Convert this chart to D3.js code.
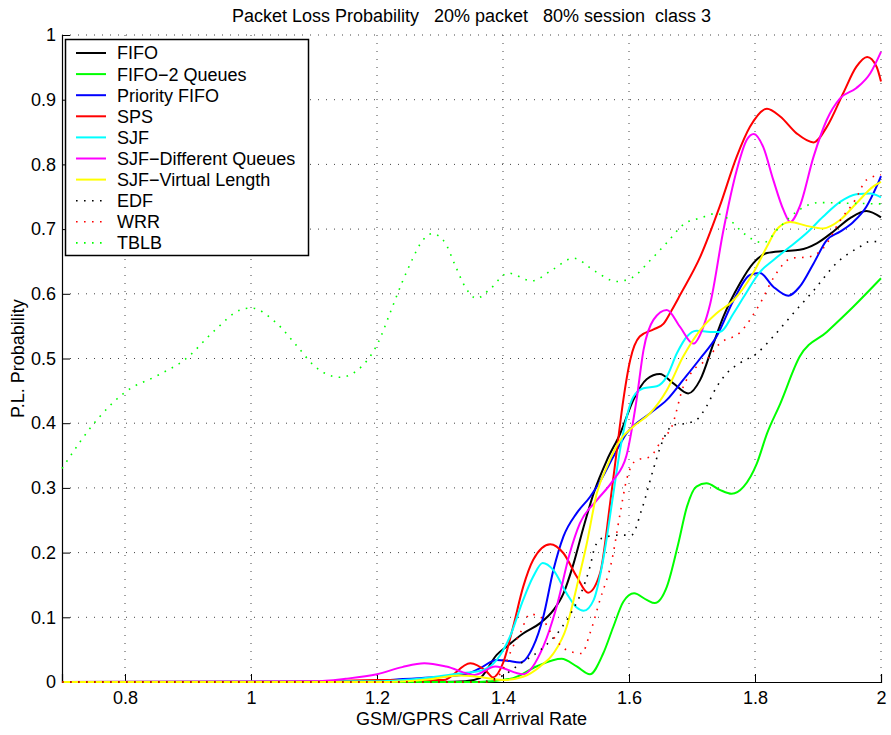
<!DOCTYPE html>
<html>
<head>
<meta charset="utf-8">
<script src="https://cdn.jsdelivr.net/npm/d3@7"></script>
<style>
  body { margin: 0; background: #fff; }
  text { font-family: "Liberation Sans", Arial, sans-serif; }
</style>
</head>
<body>
<div id="chart"></div>
<script>
// ---- data ----
var seriesNames = ["FIFO", "FIFO\u22122 Queues", "Priority FIFO", "SPS", "SJF",
  "SJF\u2212Different Queues", "SJF\u2212Virtual Length", "EDF", "WRR", "TBLB"];

var fifoX = [0.7, 1.30, 1.34, 1.363, 1.39, 1.406, 1.432, 1.459, 1.48, 1.496, 1.512, 1.528, 1.544, 1.565, 1.586, 1.607, 1.628, 1.649, 1.670, 1.694, 1.713, 1.734, 1.750, 1.776, 1.797, 1.819, 1.845, 1.871, 1.898, 1.924, 1.951, 1.977, 2.0];
var fifoY = [0, 0, 0.001, 0.006, 0.042, 0.055, 0.075, 0.091, 0.111, 0.137, 0.183, 0.240, 0.292, 0.343, 0.384, 0.436, 0.468, 0.476, 0.462, 0.446, 0.467, 0.523, 0.565, 0.616, 0.647, 0.663, 0.666, 0.668, 0.678, 0.696, 0.717, 0.728, 0.718];

var fifo2X = [0.7, 1.36, 1.416, 1.453, 1.493, 1.517, 1.538, 1.559, 1.575, 1.591, 1.608, 1.628, 1.641, 1.660, 1.678, 1.692, 1.707, 1.723, 1.744, 1.763, 1.782, 1.803, 1.819, 1.840, 1.871, 1.914, 1.956, 2.0];
var fifo2Y = [0, 0, 0.006, 0.024, 0.036, 0.024, 0.012, 0.044, 0.085, 0.124, 0.137, 0.127, 0.122, 0.147, 0.213, 0.271, 0.302, 0.307, 0.297, 0.291, 0.302, 0.338, 0.384, 0.43, 0.503, 0.541, 0.58, 0.624];

var prioX = [0.7, 1.15, 1.231, 1.284, 1.337, 1.363, 1.39, 1.406, 1.427, 1.448, 1.464, 1.480, 1.496, 1.517, 1.538, 1.554, 1.575, 1.596, 1.633, 1.66, 1.686, 1.713, 1.739, 1.766, 1.792, 1.808, 1.829, 1.853, 1.871, 1.893, 1.914, 1.935, 1.956, 1.977, 1.993, 2.0];
var prioY = [0, 0, 0.004, 0.007, 0.011, 0.021, 0.034, 0.033, 0.030, 0.055, 0.101, 0.173, 0.225, 0.261, 0.286, 0.31, 0.348, 0.384, 0.415, 0.436, 0.467, 0.5, 0.534, 0.59, 0.629, 0.632, 0.611, 0.597, 0.611, 0.647, 0.683, 0.696, 0.711, 0.735, 0.766, 0.782];

var spsX = [0.7, 1.1, 1.2, 1.305, 1.348, 1.374, 1.384, 1.400, 1.416, 1.432, 1.448, 1.475, 1.496, 1.517, 1.535, 1.554, 1.570, 1.580, 1.591, 1.602, 1.617, 1.639, 1.655, 1.668, 1.681, 1.713, 1.744, 1.771, 1.792, 1.819, 1.840, 1.866, 1.893, 1.914, 1.940, 1.961, 1.978, 1.993, 2.0];
var spsY = [0, 0.001, 0.003, 0.003, 0.029, 0.016, 0.007, 0.029, 0.085, 0.147, 0.189, 0.213, 0.199, 0.163, 0.138, 0.168, 0.276, 0.353, 0.436, 0.498, 0.534, 0.545, 0.554, 0.575, 0.598, 0.657, 0.735, 0.812, 0.858, 0.886, 0.874, 0.848, 0.834, 0.858, 0.91, 0.951, 0.966, 0.951, 0.928];

var sjfX = [0.7, 1.2, 1.284, 1.337, 1.363, 1.39, 1.411, 1.432, 1.448, 1.463, 1.480, 1.501, 1.517, 1.528, 1.544, 1.559, 1.575, 1.586, 1.607, 1.623, 1.644, 1.660, 1.676, 1.692, 1.707, 1.729, 1.744, 1.766, 1.782, 1.808, 1.829, 1.856, 1.882, 1.908, 1.935, 1.961, 1.983, 2.0];
var sjfY = [0, 0.001, 0.007, 0.014, 0.017, 0.034, 0.07, 0.127, 0.163, 0.184, 0.173, 0.137, 0.115, 0.110, 0.127, 0.189, 0.29, 0.36, 0.441, 0.454, 0.457, 0.472, 0.508, 0.534, 0.543, 0.541, 0.541, 0.570, 0.595, 0.634, 0.652, 0.673, 0.694, 0.719, 0.742, 0.754, 0.755, 0.749];

var sjfdqX = [0.7, 1.1, 1.15, 1.2, 1.24, 1.275, 1.31, 1.355, 1.388, 1.432, 1.464, 1.485, 1.506, 1.522, 1.549, 1.575, 1.596, 1.612, 1.623, 1.639, 1.660, 1.681, 1.702, 1.718, 1.729, 1.750, 1.771, 1.787, 1.798, 1.813, 1.829, 1.845, 1.856, 1.871, 1.893, 1.914, 1.935, 1.961, 1.983, 2.0];
var sjfdqY = [0, 0.001, 0.005, 0.012, 0.023, 0.029, 0.024, 0.011, 0.024, 0.012, 0.055, 0.116, 0.199, 0.245, 0.281, 0.312, 0.35, 0.436, 0.513, 0.56, 0.575, 0.549, 0.523, 0.549, 0.585, 0.699, 0.791, 0.838, 0.847, 0.827, 0.776, 0.730, 0.711, 0.735, 0.812, 0.869, 0.902, 0.918, 0.941, 0.974];

var sjfvlX = [0.7, 1.2, 1.28, 1.33, 1.36, 1.40, 1.432, 1.459, 1.48, 1.501, 1.517, 1.533, 1.549, 1.565, 1.586, 1.607, 1.633, 1.66, 1.686, 1.713, 1.739, 1.766, 1.797, 1.819, 1.834, 1.856, 1.882, 1.908, 1.935, 1.961, 1.988, 2.0];
var sjfvlY = [0, 0, 0.004, 0.010, 0.008, 0.003, 0.008, 0.024, 0.044, 0.085, 0.147, 0.214, 0.292, 0.333, 0.374, 0.395, 0.415, 0.451, 0.503, 0.544, 0.570, 0.59, 0.632, 0.673, 0.699, 0.711, 0.705, 0.701, 0.714, 0.74, 0.766, 0.773];

var edfX = [0.7, 1.36, 1.40, 1.43, 1.46, 1.49, 1.51, 1.525, 1.538, 1.546, 1.557, 1.583, 1.604, 1.620, 1.639, 1.652, 1.670, 1.692, 1.707, 1.723, 1.739, 1.755, 1.776, 1.803, 1.829, 1.861, 1.893, 1.93, 1.967, 1.983, 2.0];
var edfY = [0, 0, 0.01, 0.03, 0.05, 0.08, 0.11, 0.14, 0.178, 0.209, 0.222, 0.227, 0.227, 0.266, 0.330, 0.369, 0.397, 0.40, 0.405, 0.426, 0.456, 0.477, 0.493, 0.508, 0.534, 0.57, 0.605, 0.648, 0.673, 0.681, 0.68];

var wrrX = [0.7, 1.38, 1.40, 1.416, 1.427, 1.443, 1.46, 1.48, 1.50, 1.525, 1.538, 1.554, 1.573, 1.586, 1.596, 1.612, 1.633, 1.652, 1.668, 1.686, 1.702, 1.723, 1.744, 1.776, 1.808, 1.832, 1.858, 1.885, 1.908, 1.935, 1.959, 1.977, 2.0];
var wrrY = [0, 0, 0.02, 0.055, 0.075, 0.105, 0.1, 0.07, 0.05, 0.044, 0.075, 0.127, 0.189, 0.261, 0.312, 0.343, 0.348, 0.374, 0.395, 0.456, 0.482, 0.498, 0.523, 0.54, 0.585, 0.629, 0.655, 0.657, 0.670, 0.713, 0.745, 0.776, 0.784];

var tblbX = [0.7, 0.757, 0.803, 0.850, 0.896, 0.942, 0.983, 1.001, 1.039, 1.074, 1.100, 1.141, 1.179, 1.202, 1.221, 1.240, 1.256, 1.268, 1.288, 1.308, 1.324, 1.341, 1.358, 1.379, 1.408, 1.446, 1.478, 1.512, 1.546, 1.580, 1.605, 1.633, 1.660, 1.689, 1.713, 1.738, 1.760, 1.779, 1.813, 1.840, 1.866, 1.903, 1.946, 2.0];
var tblbY = [0.33, 0.407, 0.45, 0.473, 0.499, 0.543, 0.575, 0.578, 0.556, 0.518, 0.489, 0.471, 0.491, 0.525, 0.571, 0.618, 0.653, 0.676, 0.693, 0.679, 0.644, 0.609, 0.593, 0.607, 0.632, 0.620, 0.637, 0.655, 0.635, 0.619, 0.625, 0.651, 0.679, 0.709, 0.717, 0.724, 0.714, 0.696, 0.679, 0.704, 0.727, 0.741, 0.740, 0.739];

var xTicks = [0.8, 1, 1.2, 1.4, 1.6, 1.8, 2];
var yTicks = [0, 0.1, 0.2, 0.3, 0.4, 0.5, 0.6, 0.7, 0.8, 0.9, 1];

// ---- drawing ----
var width = 891, height = 735;
var plotL = 62, plotR = 881, plotT = 35, plotB = 682;

var svg = d3.select("#chart").append("svg")
  .attr("width", width)
  .attr("height", height)
  .style("background", "#fff");

var x = d3.scaleLinear().domain([0.7, 2]).range([plotL, plotR]);
var y = d3.scaleLinear().domain([0, 1]).range([plotB, plotT]);

// grid
svg.append("g").selectAll("line").data(xTicks).join("line")
  .attr("x1", d => x(d)).attr("x2", d => x(d))
  .attr("y1", plotT).attr("y2", plotB)
  .attr("stroke", "#444").attr("stroke-width", 1)
  .attr("stroke-dasharray", "1,7");
svg.append("g").selectAll("line").data(yTicks.slice(1)).join("line")
  .attr("x1", plotL).attr("x2", plotR)
  .attr("y1", d => y(d)).attr("y2", d => y(d))
  .attr("stroke", "#444").attr("stroke-width", 1)
  .attr("stroke-dasharray", "1,7");

// axes with inward ticks
var xAxis = svg.append("g")
  .attr("transform", "translate(0," + plotB + ")")
  .call(d3.axisBottom(x).tickValues(xTicks).tickFormat(d3.format("~g"))
    .tickSize(-8).tickPadding(9));
var yAxis = svg.append("g")
  .attr("transform", "translate(" + plotL + ",0)")
  .call(d3.axisLeft(y).tickValues(yTicks).tickFormat(d3.format("~g"))
    .tickSize(-8).tickPadding(6));

[xAxis, yAxis].forEach(function (g) {
  g.select(".domain").attr("stroke", "#000").attr("stroke-width", 1.2);
  g.selectAll(".tick line").attr("stroke", "#000");
  g.selectAll(".tick text")
    .style("font-family", "'Liberation Sans', Arial, sans-serif")
    .style("font-size", "18px").attr("fill", "#000");
});

var line = d3.line()
  .x(d => x(d[0]))
  .y(d => y(d[1]))
  .curve(d3.curveMonotoneX);

var series = [
  { xs: fifoX, ys: fifoY, color: "#000000", dash: null },
  { xs: fifo2X, ys: fifo2Y, color: "#00ff00", dash: null },
  { xs: prioX, ys: prioY, color: "#0000ff", dash: null },
  { xs: spsX, ys: spsY, color: "#ff0000", dash: null },
  { xs: sjfX, ys: sjfY, color: "#00ffff", dash: null },
  { xs: sjfdqX, ys: sjfdqY, color: "#ff00ff", dash: null },
  { xs: sjfvlX, ys: sjfvlY, color: "#ffff00", dash: null },
  { xs: edfX, ys: edfY, color: "#000000", dash: "1.6,6.4" },
  { xs: wrrX, ys: wrrY, color: "#ff0000", dash: "1.6,6.4" },
  { xs: tblbX, ys: tblbY, color: "#00ff00", dash: "1.6,6.4" }
];
series.forEach(function (s, i) { s.name = seriesNames[i]; });

svg.append("g").selectAll("path").data(series).join("path")
  .attr("d", s => line(d3.zip(s.xs, s.ys)))
  .attr("fill", "none")
  .attr("stroke", s => s.color)
  .attr("stroke-width", s => s.dash ? 1.6 : 2)
  .attr("stroke-dasharray", s => s.dash);

// legend
var lg = svg.append("g");
lg.append("rect")
  .attr("x", 65.5).attr("y", 39.5).attr("width", 243).attr("height", 216)
  .attr("fill", "#fff").attr("stroke", "#000").attr("stroke-width", 1.5);
var items = lg.selectAll("g.item").data(series).join("g")
  .attr("class", "item")
  .attr("transform", (d, i) => "translate(0," + (53 + i * 21.1) + ")");
items.append("line")
  .attr("x1", 76).attr("x2", 106)
  .attr("stroke", d => d.color)
  .attr("stroke-width", d => d.dash ? 1.6 : 2)
  .attr("stroke-dasharray", d => d.dash);
items.append("text")
  .attr("x", 117).attr("dy", "0.36em")
  .style("font-size", "18px")
  .text(d => d.name);

// title and labels
svg.append("text")
  .attr("x", (plotL + plotR) / 2).attr("y", 22)
  .attr("text-anchor", "middle")
  .style("font-size", "18px")
  .style("white-space", "pre")
  .text("Packet Loss Probability   20% packet   80% session  class 3");

svg.append("text")
  .attr("x", (plotL + plotR) / 2).attr("y", 725)
  .attr("text-anchor", "middle")
  .style("font-size", "18px")
  .text("GSM/GPRS Call Arrival Rate");

svg.append("text")
  .attr("transform", "translate(24," + ((plotT + plotB) / 2) + ") rotate(-90)")
  .attr("text-anchor", "middle")
  .style("font-size", "18px")
  .text("P.L. Probability");
</script>
</body>
</html>
